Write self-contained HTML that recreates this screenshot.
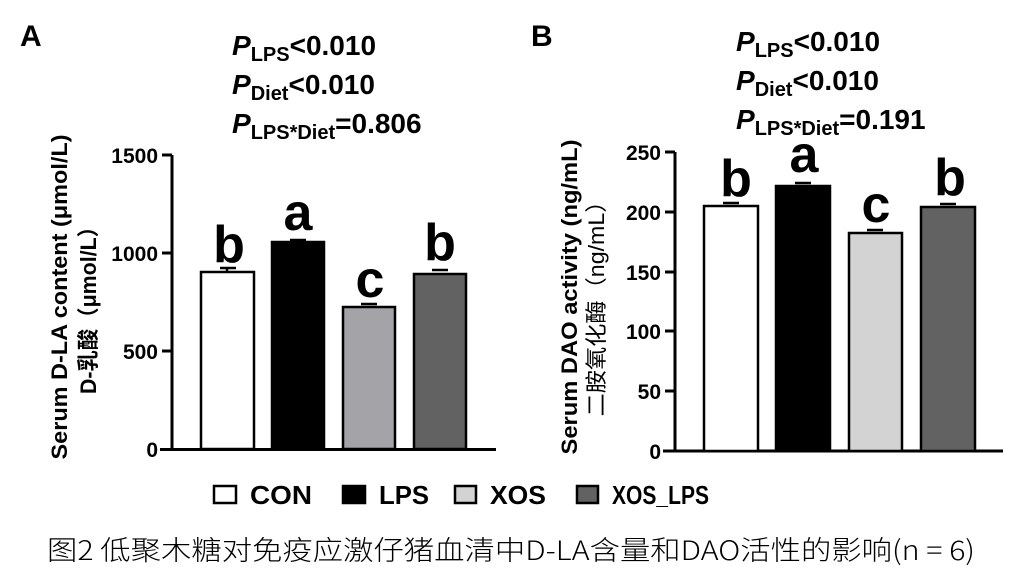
<!DOCTYPE html>
<html><head><meta charset="utf-8"><style>html,body{margin:0;padding:0;background:#fff}svg{display:block}</style></head>
<body>
<svg width="1025" height="578" viewBox="0 0 1025 578" xmlns="http://www.w3.org/2000/svg" font-family="Liberation Sans, Noto Sans CJK SC, sans-serif">
<g font-weight="bold" fill="#000">
<text x="20" y="46" font-size="30">A</text>
<text x="531" y="46" font-size="30">B</text>
<g font-size="28">
<text x="232" y="55"><tspan font-style="italic">P</tspan><tspan font-size="20" dy="6">LPS</tspan><tspan dy="-6">&lt;0.010</tspan></text>
<text x="232" y="94"><tspan font-style="italic">P</tspan><tspan font-size="20" dy="6">Diet</tspan><tspan dy="-6">&lt;0.010</tspan></text>
<text x="232" y="133"><tspan font-style="italic">P</tspan><tspan font-size="20" dy="6">LPS*Diet</tspan><tspan dy="-6">=0.806</tspan></text>
<text x="736" y="51"><tspan font-style="italic">P</tspan><tspan font-size="20" dy="6">LPS</tspan><tspan dy="-6">&lt;0.010</tspan></text>
<text x="736" y="90"><tspan font-style="italic">P</tspan><tspan font-size="20" dy="6">Diet</tspan><tspan dy="-6">&lt;0.010</tspan></text>
<text x="736" y="129"><tspan font-style="italic">P</tspan><tspan font-size="20" dy="6">LPS*Diet</tspan><tspan dy="-6">=0.191</tspan></text>
</g>
</g>
<!-- Chart A -->
<g stroke="#000" stroke-width="3" fill="none">
<line x1="172" y1="155" x2="172" y2="450"/>
<line x1="160" y1="449.5" x2="496" y2="449.5"/>
<line x1="162" y1="155" x2="172" y2="155"/>
<line x1="162" y1="253" x2="172" y2="253"/>
<line x1="162" y1="351" x2="172" y2="351"/>
</g>
<g font-weight="bold" font-size="21" text-anchor="end">
<text x="158" y="163">1500</text><text x="158" y="261">1000</text><text x="158" y="359">500</text><text x="158" y="457">0</text>
</g>
<g stroke="#000" stroke-width="2.5">
<rect x="201" y="272" width="53" height="177" fill="#fff"/>
<rect x="272" y="242" width="52" height="207" fill="#000"/>
<rect x="343" y="307" width="52" height="142" fill="#a3a3a8"/>
<rect x="414" y="274" width="52" height="175" fill="#626262"/>
<path d="M220 268H236M227 268V272 M290 240H306 M361 304H377 M432 270H448" fill="none"/>
</g>
<g font-weight="bold" font-size="52" text-anchor="middle">
<text x="229" y="262">b</text><text x="298" y="230">a</text><text x="370" y="297">c</text><text x="440" y="260">b</text>
</g>
<g font-weight="bold" font-size="22" text-anchor="middle">
<text transform="translate(67,297) rotate(-90)" textLength="325" lengthAdjust="spacingAndGlyphs">Serum D-LA content (μmol/L)</text>
<text transform="translate(96,305) rotate(-90)" textLength="178" lengthAdjust="spacingAndGlyphs">D-乳酸（μmol/L）</text>
</g>
<!-- Chart B -->
<g stroke="#000" stroke-width="3" fill="none">
<line x1="675" y1="152" x2="675" y2="452"/>
<line x1="663" y1="451" x2="1003" y2="451"/>
<line x1="665" y1="152" x2="675" y2="152"/>
<line x1="665" y1="212" x2="675" y2="212"/>
<line x1="665" y1="272" x2="675" y2="272"/>
<line x1="665" y1="331" x2="675" y2="331"/>
<line x1="665" y1="391" x2="675" y2="391"/>
</g>
<g font-weight="bold" font-size="21" text-anchor="end">
<text x="661" y="160">250</text><text x="661" y="220">200</text><text x="661" y="280">150</text><text x="661" y="339">100</text><text x="661" y="399">50</text><text x="661" y="459">0</text>
</g>
<g stroke="#000" stroke-width="2.5">
<rect x="704" y="206" width="54" height="245" fill="#fff"/>
<rect x="776" y="186" width="54" height="265" fill="#000"/>
<rect x="849" y="233" width="53" height="218" fill="#d3d3d3"/>
<rect x="921" y="207" width="54" height="244" fill="#626262"/>
<path d="M723 203H739 M795 183H811 M867 230H883 M940 204H956" fill="none"/>
</g>
<g font-weight="bold" font-size="52" text-anchor="middle">
<text x="736" y="196">b</text><text x="804" y="172">a</text><text x="876" y="222">c</text><text x="950" y="195">b</text>
</g>
<g font-weight="bold" font-size="22" text-anchor="middle">
<text transform="translate(577,297) rotate(-90)" textLength="315" lengthAdjust="spacingAndGlyphs">Serum DAO activity (ng/mL)</text>
</g>
<text transform="translate(604,303) rotate(-90)" font-size="22" text-anchor="middle" textLength="227" lengthAdjust="spacingAndGlyphs">二胺氧化酶（ng/mL）</text>
<!-- Legend -->
<g stroke="#000" stroke-width="2.5">
<rect x="214" y="486" width="22" height="17" fill="#fff"/>
<rect x="343" y="486" width="22" height="17" fill="#000"/>
<rect x="455" y="486" width="21" height="17" fill="#d3d3d3"/>
<rect x="577" y="486" width="21" height="17" fill="#626262"/>
</g>
<g font-weight="bold" font-size="26">
<text x="250" y="504" textLength="62" lengthAdjust="spacingAndGlyphs">CON</text>
<text x="379" y="504" textLength="50" lengthAdjust="spacingAndGlyphs">LPS</text>
<text x="490" y="504" textLength="56" lengthAdjust="spacingAndGlyphs">XOS</text>
<text x="612" y="504" textLength="97" lengthAdjust="spacingAndGlyphs">XOS_LPS</text>
</g>
<text x="47" y="560" font-size="27" font-family="Noto Sans CJK SC, sans-serif" font-weight="300" textLength="928" lengthAdjust="spacingAndGlyphs">图2 低聚木糖对免疫应激仔猪血清中D-LA含量和DAO活性的影响(n = 6)</text>
</svg>
</body></html>
